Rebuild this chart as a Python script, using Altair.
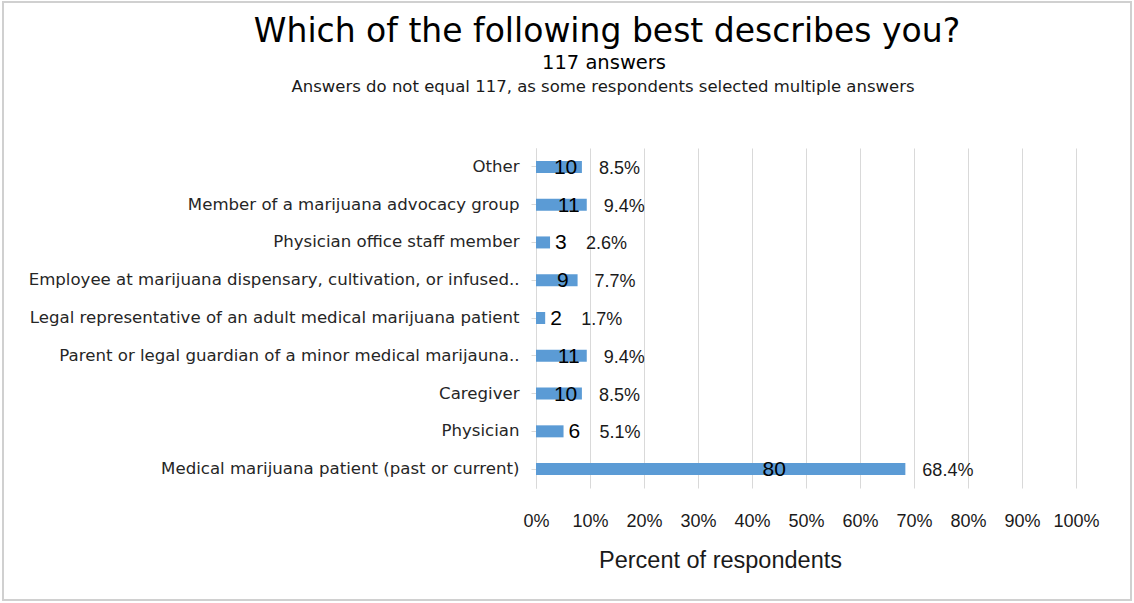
import altair as alt
import pandas as pd

categories = [
    "Other",
    "Member of a marijuana advocacy group",
    "Physician office staff member",
    "Employee at marijuana dispensary, cultivation, or infused..",
    "Legal representative of an adult medical marijuana patient",
    "Parent or legal guardian of a minor medical marijauna..",
    "Caregiver",
    "Physician",
    "Medical marijuana patient (past or current)",
]
counts = [10, 11, 3, 9, 2, 11, 10, 6, 80]
percents = [8.5, 9.4, 2.6, 7.7, 1.7, 9.4, 8.5, 5.1, 68.4]
x_ticks = [0, 10, 20, 30, 40, 50, 60, 70, 80, 90, 100]

title_text = "Which of the following best describes you?"
sub1_text = "117 answers"
sub2_text = "Answers do not equal 117, as some respondents selected multiple answers"
x_title = "Percent of respondents"

df = pd.DataFrame({"cat": categories, "count": counts, "pct": percents})
df["pct_label"] = [f"{p:.1f}%" for p in percents]
df["count_label"] = [str(c) for c in counts]

W, H = 540, 340
FONT = "Liberation Sans"
FONT2 = "DejaVu Sans"

y_enc = alt.Y(
    "cat:N",
    sort=categories,
    title=None,
    scale=alt.Scale(paddingInner=0.0, paddingOuter=0.0),
    axis=alt.Axis(
        labelFont=FONT2,
        labelFontSize=16.6,
        labelColor="#262626",
        labelPadding=12,
        labelLimit=500,
        tickSize=5,
        tickColor="#d9d9d9",
        domainColor="#d9d9d9",
        grid=False,
    ),
)

x_enc = alt.X(
    "pct:Q",
    scale=alt.Scale(domain=[0, 100], nice=False),
    axis=alt.Axis(
        values=x_ticks,
        labelExpr="datum.value + '%'",
        labelFont=FONT,
        labelFontSize=18,
        labelColor="#1a1a1a",
        labelPadding=24,
        ticks=False,
        domain=False,
        grid=True,
        gridColor="#d9d9d9",
        gridWidth=1,
        title=x_title,
        titleFont=FONT,
        titleFontSize=23.5,
        titleFontWeight="normal",
        titleColor="#1a1a1a",
        titleAnchor="start",
        titleAlign="center",
        titleX=184,
        titleY=60,
        labelFlush=False,
    ),
)

base = alt.Chart(df)

bars = base.mark_bar(color="#5b9bd5", size=12).encode(x=x_enc, y=y_enc)

big = base.transform_filter("datum.count > 6").transform_calculate(cx="datum.pct * 0.645")
small = base.transform_filter("datum.count <= 6")

count_big = big.mark_text(font=FONT, fontSize=21, color="#000000", align="center", baseline="middle", dy=1).encode(
    x=alt.X("cx:Q", scale=alt.Scale(domain=[0, 100], nice=False)),
    y=alt.Y("cat:N", sort=categories),
    text="count_label:N",
)
count_small = small.mark_text(font=FONT, fontSize=21, color="#000000", align="left", baseline="middle", dx=5, dy=1).encode(
    x="pct:Q",
    y=alt.Y("cat:N", sort=categories),
    text="count_label:N",
)
pct_big = big.mark_text(font=FONT, fontSize=18, color="#1a1a1a", align="left", baseline="middle", dx=17, dy=2).encode(
    x="pct:Q",
    y=alt.Y("cat:N", sort=categories),
    text="pct_label:N",
)
pct_small = small.mark_text(font=FONT, fontSize=18, color="#1a1a1a", align="left", baseline="middle", dx=36, dy=2).encode(
    x="pct:Q",
    y=alt.Y("cat:N", sort=categories),
    text="pct_label:N",
)

one = alt.Chart(pd.DataFrame({"a": [0]}))
border = one.mark_rect(filled=False, stroke="#d0d0d0", strokeWidth=2).encode(
    x=alt.value(-533), x2=alt.value(595), y=alt.value(-146), y2=alt.value(452)
)
title = one.mark_text(font=FONT2, fontSize=33, color="#000000", align="center", baseline="alphabetic").encode(
    x=alt.value(71), y=alt.value(-106), text=alt.value(title_text)
)
sub1 = one.mark_text(font=FONT2, fontSize=19.5, color="#000000", align="center", baseline="alphabetic").encode(
    x=alt.value(68), y=alt.value(-79), text=alt.value(sub1_text)
)
sub2 = one.mark_text(font=FONT2, fontSize=16.5, color="#1a1a1a", align="center", baseline="alphabetic").encode(
    x=alt.value(67), y=alt.value(-56), text=alt.value(sub2_text)
)

chart = (
    alt.layer(border, bars, count_big, count_small, pct_big, pct_small, title, sub1, sub2)
    .properties(
        width=W,
        height=H,
        autosize=alt.AutoSizeParams(type="none"),
        padding={"left": 536, "top": 148, "right": 58, "bottom": 115},
        background="white",
    )
    .configure_view(stroke=None)
)

chart.save("out.html", embed_options={"renderer": "svg", "actions": False})
